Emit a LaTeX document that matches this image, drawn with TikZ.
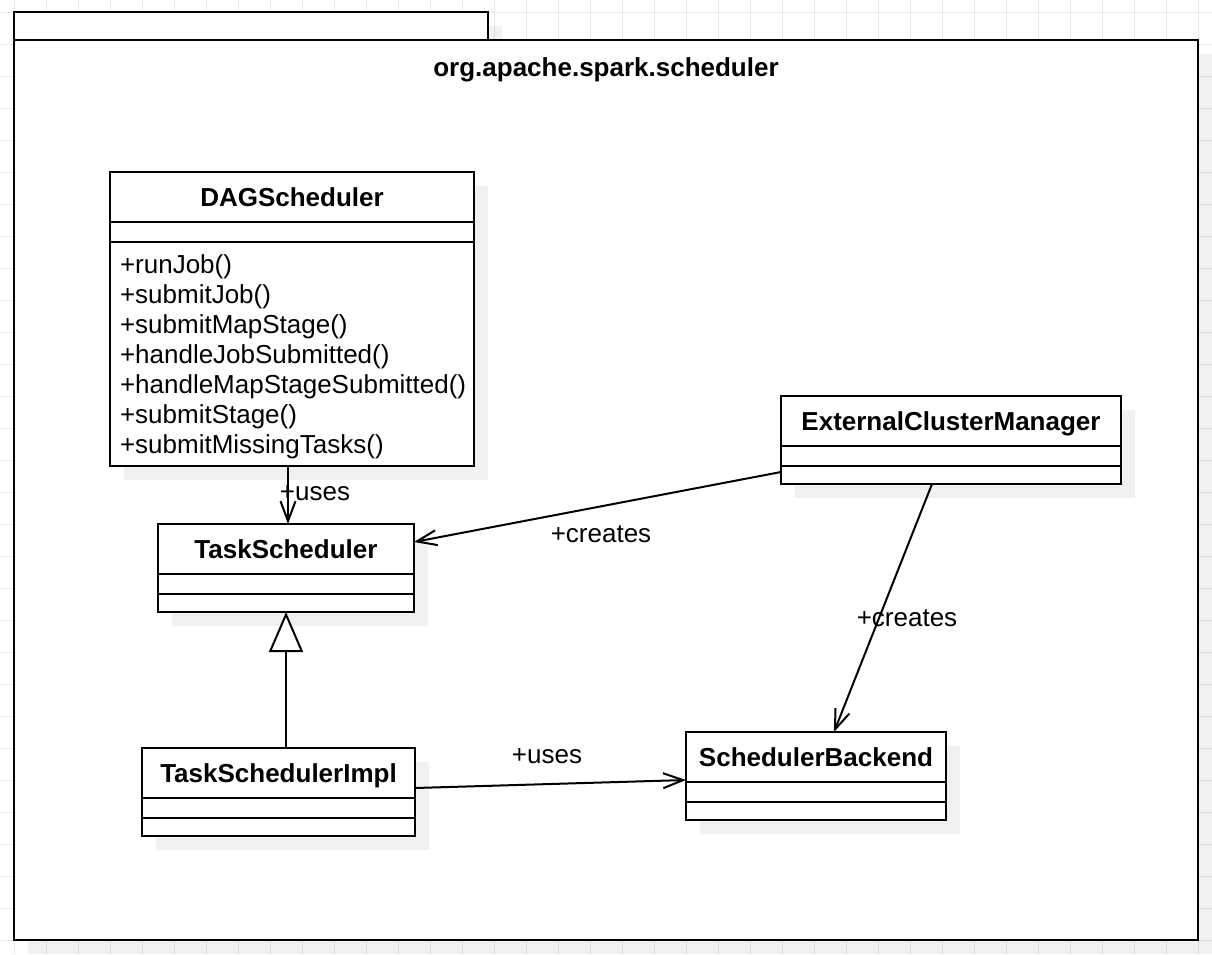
\documentclass[tikz,border=0pt]{standalone}
\usepackage{fontspec}
\setmainfont{Liberation Sans}
\usetikzlibrary{arrows.meta,shadows}
\begin{document}
\begin{tikzpicture}[x=1pt,y=-1pt,
  every node/.style={font=\fontsize{26pt}{30pt}\selectfont, inner sep=0pt, outer sep=0pt},
  gridline/.style={draw=black!9, line width=1pt},
  shad/.style={drop shadow={shadow xshift=14pt, shadow yshift=-14pt, fill=black, opacity=0.055}},
  pkgbox/.style={rectangle, draw=black, line width=2.6pt, fill=white, anchor=north west, shad},
  cls/.style={rectangle, draw=black, line width=2.2pt, fill=white, anchor=north west, shad},
  sep/.style={draw=black, line width=2.2pt},
  ttl/.style={font=\fontsize{26pt}{30pt}\selectfont\bfseries, anchor=base},
  meth/.style={anchor=base west},
  lbl/.style={anchor=base},
  assoc/.style={draw=black, line width=2pt, -{Straight Barb[length=20pt,width=15pt]}},
  gen/.style={draw=black, line width=2pt, -{Triangle[fill=white,length=40pt,width=34pt]}}
]
\useasboundingbox (0,0) rectangle (1212,954);
\fill[white] (0,0) rectangle (1212,954);
% background grid
\foreach \x in {14,46,...,1198} \draw[gridline] (\x,0) -- (\x,954);
\foreach \y in {12,44,...,940} \draw[gridline] (0,\y) -- (1212,\y);

% package
\node[pkgbox, minimum width=474pt, minimum height=28pt] (pkgtab) at (14,12) {};
\node[pkgbox, minimum width=1184pt, minimum height=900pt] (pkg) at (14,40) {};
\node[ttl] (pkgtitle) at (606,76) {org.apache.spark.scheduler};

% DAGScheduler
\node[cls, minimum width=364pt, minimum height=294pt] (dag) at (110,172) {};
\node[ttl] (dagT) at (292,206) {DAGScheduler};
\draw[sep] ([yshift=-50pt]dag.north west) -- ([yshift=-50pt]dag.north east);
\draw[sep] ([yshift=-70pt]dag.north west) -- ([yshift=-70pt]dag.north east);
\foreach \t [count=\i] in {+runJob(),+submitJob(),+submitMapStage(),+handleJobSubmitted(),+handleMapStageSubmitted(),+submitStage(),+submitMissingTasks()}
  \node[meth] (m\i) at (120,243+30*\i) {\t};

% TaskScheduler
\node[cls, minimum width=256pt, minimum height=88pt] (ts) at (158,524) {};
\node[ttl] (tsT) at (286,558) {TaskScheduler};
\draw[sep] ([yshift=-50pt]ts.north west) -- ([yshift=-50pt]ts.north east);
\draw[sep] ([yshift=-70pt]ts.north west) -- ([yshift=-70pt]ts.north east);

% TaskSchedulerImpl
\node[cls, minimum width=273pt, minimum height=88pt] (tsi) at (142,748) {};
\node[ttl] (tsiT) at (278.5,782) {TaskSchedulerImpl};
\draw[sep] ([yshift=-50pt]tsi.north west) -- ([yshift=-50pt]tsi.north east);
\draw[sep] ([yshift=-70pt]tsi.north west) -- ([yshift=-70pt]tsi.north east);

% SchedulerBackend
\node[cls, minimum width=260pt, minimum height=88pt] (sb) at (686,732) {};
\node[ttl] (sbT) at (816,766) {SchedulerBackend};
\draw[sep] ([yshift=-50pt]sb.north west) -- ([yshift=-50pt]sb.north east);
\draw[sep] ([yshift=-70pt]sb.north west) -- ([yshift=-70pt]sb.north east);

% ExternalClusterManager
\node[cls, minimum width=340pt, minimum height=88pt] (ecm) at (781,396) {};
\node[ttl] (ecmT) at (951,430) {ExternalClusterManager};
\draw[sep] ([yshift=-50pt]ecm.north west) -- ([yshift=-50pt]ecm.north east);
\draw[sep] ([yshift=-70pt]ecm.north west) -- ([yshift=-70pt]ecm.north east);

% connectors
\draw[assoc] ([xshift=-4pt]dag.south) -- ([xshift=2pt]ts.north);
\node[lbl] (l1) at (315,500) {+uses};
\draw[assoc] ([yshift=-32pt]ecm.west) -- ([yshift=26pt]ts.east);
\node[lbl] (l2) at (601,542) {+creates};
\draw[assoc] ([xshift=-19pt]ecm.south) -- ([xshift=18pt]sb.north);
\node[lbl] (l3) at (907,626) {+creates};
\draw[gen] ([xshift=7.5pt]tsi.north) -- (ts.south);
\draw[assoc] ([yshift=4pt]tsi.east) -- ([yshift=-4pt]sb.west);
\node[lbl] (l4) at (547,763) {+uses};
\end{tikzpicture}
\end{document}
